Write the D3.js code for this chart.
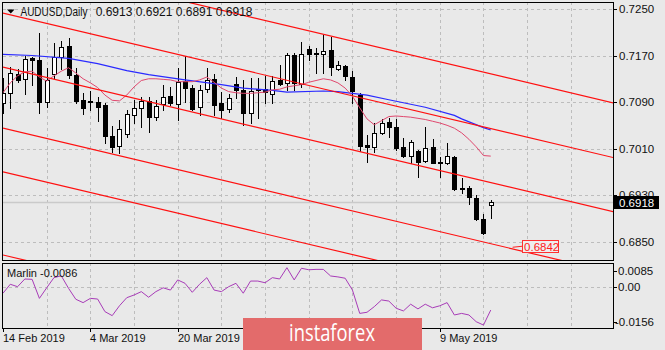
<!DOCTYPE html>
<html><head><meta charset="utf-8">
<script src="https://cdn.jsdelivr.net/npm/d3@7"></script>
<style>
html,body{margin:0;padding:0;background:#e9e9e9;}
svg{display:block;font-family:"Liberation Sans",Arial,sans-serif;}
</style>
</head><body>
<svg id="c" width="665" height="350"></svg>
<script>
// ---- data ----
const symbolTitle = "AUDUSD,Daily";
const titleQuote = "0.6913 0.6921 0.6891 0.6918";
const opens  = [0.7088,0.7106,0.7138,0.7130,0.7166,0.7162,0.7090,0.7138,0.7167,0.7186,0.7136,0.7094,0.7092,0.7090,0.7085,0.7032,0.7014,0.7035,0.7068,0.7080,0.7092,0.7064,0.7087,0.7100,0.7087,0.7126,0.7114,0.7081,0.7112,0.7130,0.7088,0.7078,0.7121,0.7111,0.7071,0.7111,0.7112,0.7104,0.7128,0.7123,0.7171,0.7121,0.7181,0.7174,0.7173,0.7179,0.7147,0.7152,0.7133,0.7102,0.7016,0.7013,0.7037,0.7056,0.7047,0.7013,0.6997,0.7006,0.6989,0.7013,0.6987,0.6985,0.6995,0.6942,0.6942,0.6925,0.6889,0.6913];
const highs  = [0.7131,0.7150,0.7147,0.7169,0.7167,0.7209,0.7149,0.7192,0.7195,0.7200,0.7149,0.7106,0.7109,0.7099,0.7088,0.7049,0.7059,0.7076,0.7094,0.7099,0.7099,0.7094,0.7119,0.7116,0.7149,0.7169,0.7119,0.7119,0.7149,0.7138,0.7107,0.7104,0.7133,0.7128,0.7131,0.7131,0.7135,0.7135,0.7154,0.7174,0.7174,0.7193,0.7186,0.7183,0.7205,0.7202,0.7161,0.7154,0.7143,0.7106,0.7033,0.7054,0.7061,0.7063,0.7061,0.7028,0.7025,0.7007,0.7047,0.7026,0.6995,0.7020,0.6997,0.6959,0.6946,0.6930,0.6897,0.6921];
const lows   = [0.7071,0.7080,0.7124,0.7104,0.7119,0.7071,0.7081,0.7131,0.7147,0.7131,0.7088,0.7069,0.7076,0.7057,0.7020,0.7004,0.7002,0.7030,0.7054,0.7047,0.7038,0.7059,0.7076,0.7085,0.7059,0.7090,0.7076,0.7068,0.7107,0.7068,0.7063,0.7073,0.7097,0.7050,0.7054,0.7063,0.7088,0.7088,0.7119,0.7111,0.7111,0.7116,0.7162,0.7140,0.7140,0.7136,0.7145,0.7128,0.7088,0.7006,0.6987,0.7004,0.7035,0.7030,0.7007,0.6995,0.6985,0.6961,0.6987,0.6985,0.6961,0.6983,0.6939,0.6934,0.6915,0.6887,0.6863,0.6891];
const closes = [0.7106,0.7140,0.7128,0.7164,0.7162,0.7090,0.7128,0.7167,0.7185,0.7136,0.7092,0.7080,0.7090,0.7081,0.7032,0.7013,0.7044,0.7069,0.7080,0.7092,0.7064,0.7083,0.7099,0.7088,0.7124,0.7114,0.7078,0.7111,0.7128,0.7085,0.7076,0.7097,0.7111,0.7071,0.7109,0.7112,0.7107,0.7126,0.7121,0.7171,0.7123,0.7173,0.7173,0.7173,0.7178,0.7150,0.7154,0.7135,0.7109,0.7014,0.7013,0.7037,0.7054,0.7047,0.7011,0.6997,0.7021,0.6987,0.7011,0.6985,0.6985,0.6997,0.6940,0.6940,0.6927,0.6889,0.6865,0.6918];
const fastMa = [0.7106,0.7123,0.7135,0.7142,0.7143,0.7133,0.7126,0.7135,0.7143,0.7149,0.7140,0.7130,0.7123,0.7115,0.7102,0.7093,0.7092,0.7102,0.7116,0.7127,0.7130,0.7130,0.7129,0.7128,0.7125,0.7125,0.7125,0.7128,0.7133,0.7124,0.7114,0.7108,0.7106,0.7105,0.7105,0.7106,0.7107,0.7111,0.7112,0.7116,0.7118,0.7120,0.7124,0.7127,0.7130,0.7128,0.7123,0.7114,0.7100,0.7080,0.7061,0.7051,0.7058,0.7065,0.7066,0.7065,0.7064,0.7062,0.7060,0.7057,0.7054,0.7050,0.7045,0.7037,0.7026,0.7013,0.6998,0.6997];
const slowMaBars   = [0,4,9,13,17,20,25,30,33,37,39,44,46,50,53,58,62,63,66,67];
const slowMaValues = [0.7172,0.7170,0.7165,0.7156,0.7144,0.7137,0.7128,0.7120,0.7114,0.7110,0.7107,0.7109,0.7108,0.7102,0.7094,0.7081,0.7067,0.7061,0.7046,0.7042];
const marlin = [-0.0029,0.0013,0.0000,0.0041,0.0039,-0.0052,-0.0005,0.0048,0.0058,-0.0007,-0.0056,-0.0071,-0.0052,-0.0055,-0.0111,-0.0129,-0.0085,-0.0049,-0.0037,-0.0022,-0.0047,-0.0022,-0.0005,-0.0015,0.0036,0.0018,-0.0025,0.0013,0.0048,-0.0015,-0.0022,0.0000,0.0018,-0.0029,0.0030,0.0030,0.0021,0.0048,0.0041,0.0101,0.0036,0.0098,0.0090,0.0092,0.0092,0.0057,0.0052,0.0045,-0.0015,-0.0119,-0.0114,-0.0089,-0.0059,-0.0064,-0.0096,-0.0108,-0.0078,-0.0099,-0.0078,-0.0094,-0.0085,-0.0071,-0.0126,-0.0119,-0.0126,-0.0156,-0.0171,-0.0104];
const marlinLabel = "Marlin -0.0086";
const priceTicks = [0.7250,0.7170,0.7090,0.7010,0.6930,0.6850];
const marlinTicks = [0.0085,0.00,-0.0156];
const marlinTickLabels = ["0.0085","0.00","-0.0156"];
const dateTickBars = [0,12,24,36,48,60];
const dateLabelBars = [0,12,24,60];
const dateLabels = ["14 Feb 2019","4 Mar 2019","20 Mar 2019","9 May 2019"];
const gridBars = [6,12,18,24,30,36,42,48,54,60,66,72,78];
const channelStartBar = 0, channelEndBar = 84;
const channelStart = [0.7337,0.7243,0.7150,0.7045,0.6970,0.6827];
const channelEnd   = [0.7088,0.6994,0.6901,0.6796,0.6721,0.6578];
const bidPrice = 0.6918;
const markPrice = 0.6842, markBar = 71.3, markLineBar = 70;

// ---- layout ----
const L = 3, R = 613, T = 2, B = 260, IT = 263, IB = 328;
const svg = d3.select("#c");
const x = d3.scaleLinear().domain([0, 67]).range([3, 3 + 67*7.28]);
const y = d3.scaleLinear().domain([0.6850, 0.7250]).range([241.6, 9.0]);
const ym = d3.scaleLinear().domain([-0.0156, 0, 0.0085]).range([321.7, 286.7, 270.7]);
const crisp = v => Math.round(v) + 0.5;

svg.append("rect").attr("width",665).attr("height",350).attr("fill","#e9e9e9");
const defs = svg.append("defs");
defs.append("clipPath").attr("id","mainclip").append("rect").attr("x",L).attr("y",T).attr("width",R-L).attr("height",B-T);
defs.append("clipPath").attr("id","indclip").append("rect").attr("x",L).attr("y",IT).attr("width",R-L).attr("height",IB-IT);

// grid
const grid = svg.append("g").attr("stroke","#bdbdbd").attr("stroke-dasharray","3,3").attr("stroke-width",1);
priceTicks.forEach(p => grid.append("line").attr("x1",L).attr("x2",R).attr("y1",crisp(y(p))).attr("y2",crisp(y(p))));
gridBars.forEach(b => {
  const gx = crisp(x(b));
  if (gx >= R) return;
  grid.append("line").attr("x1",gx).attr("x2",gx).attr("y1",T).attr("y2",B);
  grid.append("line").attr("x1",gx).attr("x2",gx).attr("y1",IT).attr("y2",IB);
});
grid.append("line").attr("x1",L).attr("x2",R).attr("y1",crisp(ym(0))).attr("y2",crisp(ym(0)));

// bid line
svg.append("line").attr("x1",L).attr("x2",R).attr("y1",y(bidPrice)+0.5).attr("y2",y(bidPrice)+0.5)
  .attr("stroke","#cacaca").attr("stroke-width",1.5);

// candles
const cg = svg.append("g").attr("clip-path","url(#mainclip)");
opens.forEach((o,i) => {
  const c = closes[i], px = Math.round(x(i));
  cg.append("line").attr("x1",px+0.5).attr("x2",px+0.5)
    .attr("y1",Math.round(y(highs[i]))).attr("y2",Math.round(y(lows[i]))+1)
    .attr("stroke","#000").attr("stroke-width",1);
  const top = Math.round(y(Math.max(o,c))), bot = Math.round(y(Math.min(o,c)));
  if (bot - top < 1) {
    cg.append("line").attr("x1",px-2).attr("x2",px+3).attr("y1",top+0.5).attr("y2",top+0.5).attr("stroke","#000");
  } else {
    cg.append("rect").attr("x",px-1.5).attr("y",top+0.5).attr("width",4).attr("height",bot-top)
      .attr("fill", c >= o ? "#fff" : "#000").attr("stroke","#000").attr("stroke-width",1);
  }
});

// moving averages
const mg = svg.append("g").attr("clip-path","url(#mainclip)").attr("fill","none");
mg.append("path").attr("d", d3.line().x(d=>x(d[0])).y(d=>y(d[1]))(slowMaBars.map((b,k)=>[b,slowMaValues[k]])))
  .attr("stroke","#2a2aff").attr("stroke-width",1.2);
mg.append("path").attr("d", d3.line().x((d,i)=>x(i)).y(d=>y(d))(fastMa))
  .attr("stroke","#e0486e").attr("stroke-width",1);

// channel lines
const chg = svg.append("g").attr("clip-path","url(#mainclip)");
channelStart.forEach((p,k) => {
  chg.append("line").attr("x1",x(channelStartBar)).attr("y1",y(p)).attr("x2",x(channelEndBar)).attr("y2",y(channelEnd[k]))
    .attr("stroke","#ff1010").attr("stroke-width",1.2);
});

// price mark label
const my = y(markPrice);
svg.append("line").attr("x1",x(markLineBar)).attr("x2",x(markBar)).attr("y1",my+1).attr("y2",my)
  .attr("stroke","#ff2020").attr("stroke-width",1);
svg.append("rect").attr("x",Math.round(x(markBar))+0.5).attr("y",Math.round(my)-5.5).attr("width",36).attr("height",12)
  .attr("fill","#eeeeee").attr("stroke","#ff3030").attr("stroke-width",1);
svg.append("text").attr("x",x(markBar)+2).attr("y",my+4.5).attr("font-size","11.5px").attr("fill","#ff2020")
  .text(markPrice.toFixed(4));

// marlin line
svg.append("path").attr("clip-path","url(#indclip)").attr("fill","none")
  .attr("d", d3.line().x((d,i)=>x(i)).y(d=>ym(d))(marlin))
  .attr("stroke","#a83cb8").attr("stroke-width",1);

// frames
svg.append("rect").attr("x",L-0.5).attr("y",T+0.5).attr("width",R-L+1).attr("height",B-T).attr("fill","none").attr("stroke","#000");
svg.append("rect").attr("x",L-0.5).attr("y",IT+0.5).attr("width",R-L+1).attr("height",IB-IT).attr("fill","none").attr("stroke","#000");

// right price axis
const ax = svg.append("g").attr("font-size","11.5px").attr("fill","#111");
priceTicks.forEach(p => {
  ax.append("line").attr("x1",R).attr("x2",R+4).attr("y1",crisp(y(p))).attr("y2",crisp(y(p))).attr("stroke","#000");
  ax.append("text").attr("x",619).attr("y",y(p)+4).text(p.toFixed(4));
});
marlinTicks.forEach((v,k) => {
  ax.append("line").attr("x1",R).attr("x2",R+4).attr("y1",crisp(ym(v))).attr("y2",crisp(ym(v))).attr("stroke","#000");
  ax.append("text").attr("x", v < 0 ? 615 : 618).attr("y",ym(v)+4).text(marlinTickLabels[k]);
});
// bid box
const by = y(bidPrice);
svg.append("rect").attr("x",614).attr("y",Math.round(by)-6).attr("width",45).attr("height",13).attr("fill","#000");
svg.append("text").attr("x",619).attr("y",by+4.5).attr("font-size","11.5px").attr("fill","#fff").text(bidPrice.toFixed(4));

// date axis
const dx = svg.append("g").attr("font-size","11px").attr("fill","#111");
dateTickBars.forEach(b => {
  const tx = crisp(x(b));
  dx.append("line").attr("x1",tx).attr("x2",tx).attr("y1",IB).attr("y2",IB+4).attr("stroke","#000");
});
dateLabelBars.forEach((b,k) => {
  dx.append("text").attr("x",crisp(x(b))-0.5).attr("y",342).text(dateLabels[k]);
});

// titles
svg.append("path").attr("d","M7,9.5 L14.5,9.5 L10.75,13.5 Z").attr("fill","#000");
svg.append("text").attr("x",20.5).attr("y",16).attr("font-size","12px").attr("fill","#111")
  .attr("textLength",67).attr("lengthAdjust","spacingAndGlyphs").text(symbolTitle);
svg.append("text").attr("x",95.7).attr("y",16).attr("font-size","12px").attr("fill","#111").text(titleQuote);
svg.append("text").attr("x",7).attr("y",276.5).attr("font-size","11px").attr("fill","#111").text(marlinLabel);

// watermark
svg.append("rect").attr("x",243).attr("y",318).attr("width",179).attr("height",32).attr("fill","#e36b6b");
svg.append("text").attr("x",332).attr("y",340.5).attr("text-anchor","middle").attr("font-family","'Open Sans',sans-serif")
  .attr("font-size","24px").attr("fill","#fff").attr("textLength",86).attr("lengthAdjust","spacingAndGlyphs").text("instaforex");
</script>
</body></html>
